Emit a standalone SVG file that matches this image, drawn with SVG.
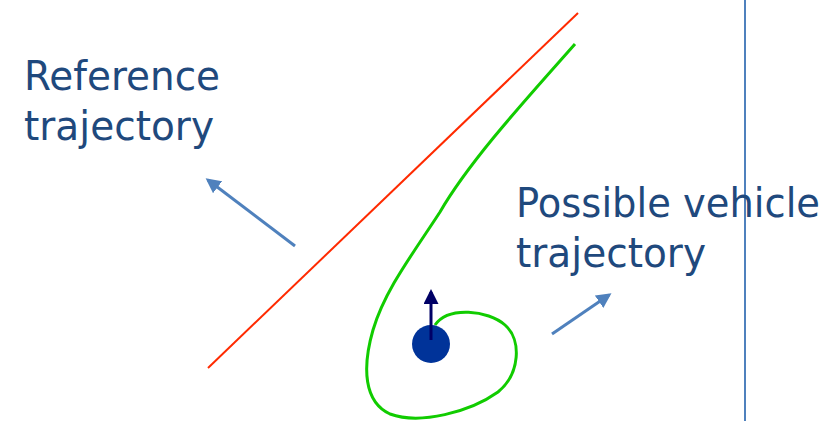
<svg xmlns="http://www.w3.org/2000/svg" width="838" height="421" viewBox="0 0 838 421">
<style>
.lbl{font-family:"DejaVu Sans",Verdana,sans-serif;font-size:41px;fill:#1F497D}
.ptr{stroke:#4F81BD;stroke-width:3;fill:none;marker-end:url(#ah)}
</style>
<defs>
<marker id="ah" viewBox="0 0 10 10" refX="8" refY="5" markerWidth="5" markerHeight="5" orient="auto" markerUnits="strokeWidth">
<path d="M0,0 L10,5 L0,10 z" fill="#4F81BD"/>
</marker>
<marker id="nh" viewBox="0 0 10 10" refX="8" refY="5" markerWidth="5" markerHeight="5" orient="auto" markerUnits="strokeWidth">
<path d="M0,0 L10,5 L0,10 z" fill="#000066"/>
</marker>
</defs>
<rect width="838" height="421" fill="#fff"/>
<g id="wall"><line x1="745" y1="0" x2="745" y2="421" stroke="#4F81BD" stroke-width="2"/></g>
<g id="reference-trajectory"><line x1="208" y1="368" x2="578" y2="13" stroke="#FF2A00" stroke-width="2"/></g>
<g id="vehicle-trajectory"><path d="M575,44 C530,95 470,160 440,212 C412,255 385,290 373,330 C362,368 364,402 390,414 C420,425 470,412 498,392 C520,374 522,340 505,325 C488,310 448,306 435,325" fill="none" stroke="#11CC00" stroke-width="3"/></g>
<g id="vehicle">
<circle cx="431" cy="344" r="19" fill="#003399"/>
<line x1="431" y1="340" x2="431" y2="292" stroke="#000066" stroke-width="3" marker-end="url(#nh)"/>
</g>
<g id="connectors">
<line class="ptr" x1="295" y1="246" x2="208" y2="180"/>
<line class="ptr" x1="552" y1="334" x2="609" y2="295"/>
</g>
<g id="label-reference">
<text class="lbl" x="24" y="90" textLength="196" lengthAdjust="spacingAndGlyphs">Reference</text>
<text class="lbl" x="24" y="140" textLength="190" lengthAdjust="spacingAndGlyphs">trajectory</text>
</g>
<g id="label-vehicle">
<text class="lbl" x="516" y="217" textLength="304" lengthAdjust="spacingAndGlyphs">Possible vehicle</text>
<text class="lbl" x="516" y="267" textLength="190" lengthAdjust="spacingAndGlyphs">trajectory</text>
</g>
</svg>
